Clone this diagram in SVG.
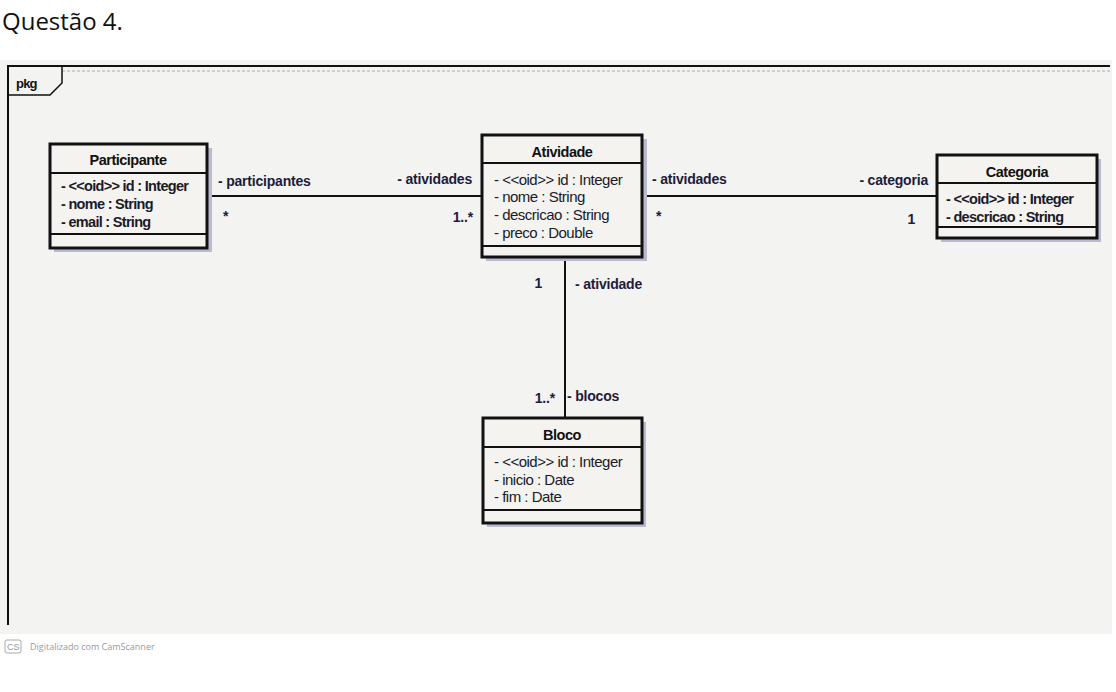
<svg xmlns="http://www.w3.org/2000/svg" width="1116" height="692" viewBox="0 0 1116 692">
  <defs>
    <style>
      .title { font-family: "Open Sans", "Liberation Sans", sans-serif; font-size: 24px; fill: #111; }
      .box { fill: #f5f3ef; stroke: #111; stroke-width: 3; }
      .shadow { fill: #b9b9cf; }
      .div { stroke: #111; stroke-width: 2; }
      .cname { font-family: "Liberation Sans", Arial, sans-serif; font-size: 14.5px; font-weight: bold; fill: #111; text-anchor: middle; letter-spacing: -0.5px; }
      .attr { font-family: "Liberation Sans", Arial, sans-serif; font-size: 15px; fill: #1a1a2a; letter-spacing: -0.5px; }
      .attrb { font-family: "Liberation Sans", Arial, sans-serif; font-size: 14.5px; font-weight: bold; fill: #1a1a2a; letter-spacing: -0.7px; }
      .lbl { font-family: "Liberation Sans", Arial, sans-serif; font-size: 14px; font-weight: bold; fill: #1c1c3c; letter-spacing: -0.2px; }
      .end { text-anchor: end; }
      .edge { stroke: #111; stroke-width: 2; fill: none; }
      .foot { font-family: "Open Sans", "Liberation Sans", sans-serif; font-size: 9px; fill: #9a9a9a; }
    </style>
  </defs>

  <rect width="1116" height="692" fill="#ffffff"/>
  <!-- scanned sheet area -->
  <rect x="0" y="60" width="1112" height="574" fill="#f3f3f2"/>

  <text class="title" x="2" y="30">Questão 4.</text>

  <!-- package frame -->
  <g id="pkg">
    <path d="M8 625 V66 H1110" fill="none" stroke="#111" stroke-width="2"/>
    <line x1="62" y1="71" x2="1110" y2="71" stroke="#aaa" stroke-width="1" stroke-dasharray="3 2"/>
    <path d="M8 95 H50 L62 83 V66" fill="none" stroke="#111" stroke-width="1.5"/>
    <text x="16" y="88" style="font-family:'Liberation Sans',Arial,sans-serif;font-size:13px;font-weight:bold;letter-spacing:-0.8px" fill="#111">pkg</text>
  </g>

  <!-- connectors -->
  <g id="connectors">
    <line class="edge" x1="207" y1="196" x2="482" y2="196"/>
    <line class="edge" x1="642" y1="196" x2="937" y2="196"/>
    <line class="edge" x1="565" y1="257" x2="565" y2="418"/>

    <text class="lbl" x="218" y="186">- participantes</text>
    <text class="lbl" x="223" y="221">*</text>
    <text class="lbl end" x="472" y="184">- atividades</text>
    <text class="lbl end" x="473" y="222">1..*</text>

    <text class="lbl" x="652" y="184">- atividades</text>
    <text class="lbl" x="656" y="221">*</text>
    <text class="lbl end" x="928" y="185">- categoria</text>
    <text class="lbl end" x="915" y="224">1</text>

    <text class="lbl end" x="542" y="288">1</text>
    <text class="lbl" x="575" y="289">- atividade</text>
    <text class="lbl end" x="555" y="403">1..*</text>
    <text class="lbl" x="567" y="401">- blocos</text>
  </g>

  <!-- Participante -->
  <g id="participante">
    <rect class="shadow" x="54" y="148" width="158" height="104"/>
    <rect class="box" x="50" y="144" width="157" height="104"/>
    <line class="div" x1="50" y1="173" x2="207" y2="173"/>
    <line class="div" x1="50" y1="234" x2="207" y2="234"/>
    <text class="cname" x="128" y="165">Participante</text>
    <text class="attrb" x="61" y="191">- &lt;&lt;oid&gt;&gt; id : Integer</text>
    <text class="attrb" x="61" y="209">- nome : String</text>
    <text class="attrb" x="61" y="227">- email : String</text>
  </g>

  <!-- Atividade -->
  <g id="atividade">
    <rect class="shadow" x="486" y="139" width="161" height="122"/>
    <rect class="box" x="482" y="135" width="160" height="122"/>
    <line class="div" x1="482" y1="163" x2="642" y2="163"/>
    <line class="div" x1="482" y1="246" x2="642" y2="246"/>
    <text class="cname" x="562" y="157">Atividade</text>
    <text class="attr" x="494" y="185">- &lt;&lt;oid&gt;&gt; id : Integer</text>
    <text class="attr" x="494" y="202">- nome : String</text>
    <text class="attr" x="494" y="220">- descricao : String</text>
    <text class="attr" x="494" y="238">- preco : Double</text>
  </g>

  <!-- Categoria -->
  <g id="categoria">
    <rect class="shadow" x="941" y="159" width="160" height="83"/>
    <rect class="box" x="937" y="155" width="160" height="83"/>
    <line class="div" x1="937" y1="183" x2="1097" y2="183"/>
    <line class="div" x1="937" y1="227" x2="1097" y2="227"/>
    <text class="cname" x="1017" y="177">Categoria</text>
    <text class="attrb" x="946" y="204">- &lt;&lt;oid&gt;&gt; id : Integer</text>
    <text class="attrb" x="946" y="222">- descricao : String</text>
  </g>

  <!-- Bloco -->
  <g id="bloco">
    <rect class="shadow" x="487" y="422" width="159" height="105"/>
    <rect class="box" x="483" y="418" width="159" height="105"/>
    <line class="div" x1="483" y1="447" x2="642" y2="447"/>
    <line class="div" x1="483" y1="510" x2="642" y2="510"/>
    <text class="cname" x="562" y="440">Bloco</text>
    <text class="attr" x="494" y="467">- &lt;&lt;oid&gt;&gt; id : Integer</text>
    <text class="attr" x="494" y="485">- inicio : Date</text>
    <text class="attr" x="494" y="502">- fim : Date</text>
  </g>

  <!-- scanner footer -->
  <g id="footer">
    <rect x="5" y="640" width="16" height="13" rx="2" fill="none" stroke="#aaa" stroke-width="1"/>
    <text x="7" y="650" style="font-family:'Liberation Sans',Arial,sans-serif;font-size:9px" fill="#999">CS</text>
    <text class="foot" x="30" y="650">Digitalizado com CamScanner</text>
  </g>
</svg>
